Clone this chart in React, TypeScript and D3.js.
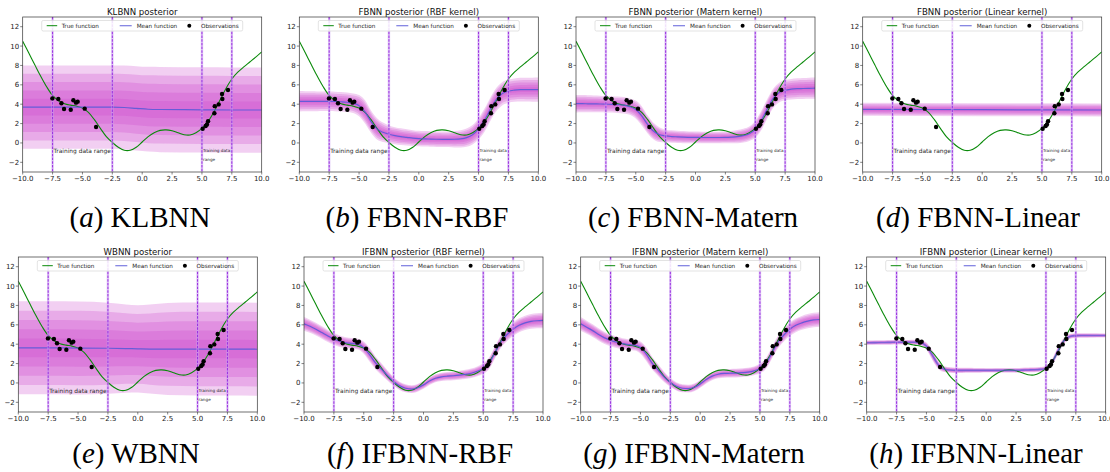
import React from 'react';
import * as d3 from 'd3';

// ---------- data ----------
const X_GRID = [-10, -9.5, -9, -8.5, -8, -7.5, -7, -6.5, -6, -5.5, -5, -4.5, -4, -3.5, -3, -2.5, -2, -1.5, -1, -0.5, 0, 0.5, 1, 1.5, 2, 2.5, 3, 3.5, 4, 4.5, 5, 5.5, 6, 6.5, 7, 7.5, 8, 8.5, 9, 9.5, 10];

const TRUE_Y = [10.5, 9.3, 8.1, 6.9, 5.8, 4.9, 4.35, 4.05, 3.9, 3.8, 3.6, 3.15, 2.4, 1.5, 0.65, 0.05, -0.45, -0.76, -0.76, -0.45, 0.1, 0.65, 1.05, 1.3, 1.35, 1.25, 1.05, 0.85, 0.82, 1.05, 1.5, 2.2, 3.2, 4.4, 5.6, 6.6, 7.3, 7.85, 8.35, 8.85, 9.4];

const OBS_X = [-7.52, -7.02, -6.76, -6.54, -5.98, -5.76, -5.54, -5.4, -4.81, -3.86, 5.06, 5.31, 5.42, 5.51, 6.04, 6.07, 6.4, 6.71, 6.68, 7.18];
const OBS_Y = [4.6, 4.53, 4.09, 3.5, 3.43, 4.4, 4.16, 4.26, 3.54, 1.65, 1.47, 1.75, 1.9, 2.24, 3.06, 3.8, 3.98, 4.53, 5.05, 5.46];

// (a) KLBNN
const KL_X = [-10, -7.5, -5, -2.5, -1.5, -0.5, 0.5, 1.5, 5, 7.5, 10];
const KL_MEAN = [3.7, 3.7, 3.7, 3.7, 3.66, 3.57, 3.48, 3.45, 3.42, 3.4, 3.4];
const KL_STD_X = [-10, -2.5, -0.5, 1.5, 10];
const KL_STD = [0.86, 0.86, 0.87, 0.88, 0.88];

// (b) FBNN RBF
const FB_RBF_MEAN = [4.3, 4.3, 4.3, 4.3, 4.3, 4.3, 4.28, 4.25, 4.2, 4.1, 3.85, 3.2, 2.2, 1.45, 1.1, 0.9, 0.75, 0.65, 0.58, 0.5, 0.45, 0.42, 0.4, 0.38, 0.37, 0.37, 0.38, 0.42, 0.55, 0.85, 1.45, 2.35, 3.5, 4.5, 5.1, 5.35, 5.45, 5.5, 5.5, 5.5, 5.5];
const FB_RBF_STD_X = [-10, -7.5, -5.5, -4.5, -3.5, -2.5, 0, 2.5, 4.5, 5.5, 6.5, 7.5, 10];
const FB_RBF_STD = [0.21, 0.2, 0.2, 0.24, 0.22, 0.18, 0.16, 0.16, 0.2, 0.24, 0.24, 0.24, 0.25];

// (c) FBNN Matern
const FB_MAT_MEAN = [4.05, 4.05, 4.04, 4.03, 4.02, 4.0, 3.98, 3.95, 3.9, 3.75, 3.45, 2.8, 1.9, 1.2, 0.85, 0.72, 0.66, 0.63, 0.6, 0.58, 0.57, 0.56, 0.56, 0.56, 0.56, 0.57, 0.6, 0.65, 0.75, 0.95, 1.4, 2.3, 3.5, 4.6, 5.2, 5.45, 5.55, 5.6, 5.62, 5.64, 5.65];
const FB_MAT_STD_X = [-10, -7.5, -5.5, -4.5, -3.5, -2.5, 0, 2.5, 4.5, 5.5, 6.5, 7.5, 10];
const FB_MAT_STD = [0.18, 0.17, 0.17, 0.2, 0.17, 0.13, 0.12, 0.12, 0.15, 0.2, 0.2, 0.21, 0.22];

// (d) FBNN Linear
const FB_LIN_X = [-10, 0, 10];
const FB_LIN_MEAN = [3.47, 3.43, 3.4];
const FB_LIN_STD_X = [-10, 10];
const FB_LIN_STD = [0.135, 0.135];

// (e) WBNN
const WB_X = [-10, -7.5, -5, -2.5, -1, 0, 1, 2.5, 5, 7.5, 10];
const WB_MEAN = [3.62, 3.62, 3.6, 3.58, 3.55, 3.52, 3.5, 3.5, 3.5, 3.5, 3.48];
const WB_STD_X = [-10, -7.5, -5, -2.5, -1, 0, 1, 2.5, 5, 7.5, 10];
const WB_STD = [0.96, 0.96, 0.96, 0.94, 0.91, 0.9, 0.92, 0.95, 0.96, 0.96, 0.96];

// (f) IFBNN RBF
const IF_RBF_MEAN = [6.1, 5.85, 5.55, 5.2, 4.85, 4.55, 4.3, 4.15, 4.08, 4.0, 3.65, 2.9, 2.05, 1.4, 0.75, 0.15, -0.3, -0.55, -0.63, -0.5, -0.2, 0.2, 0.48, 0.63, 0.7, 0.74, 0.8, 0.88, 1.0, 1.2, 1.5, 2.05, 3.2, 4.3, 5.0, 5.55, 5.95, 6.2, 6.35, 6.42, 6.45];
const IF_RBF_STD_X = [-10, -7.5, -5.5, -4.5, -3.5, -2.5, -1, 0.5, 2.5, 4.5, 5.5, 6.5, 7.5, 10];
const IF_RBF_STD = [0.14, 0.12, 0.11, 0.14, 0.12, 0.09, 0.08, 0.08, 0.09, 0.1, 0.12, 0.13, 0.14, 0.16];

// (g) IFBNN Matern
const IF_MAT_MEAN = [6.1, 5.75, 5.4, 5.0, 4.65, 4.4, 4.2, 4.05, 3.95, 3.9, 3.65, 2.95, 2.0, 1.3, 0.6, 0.05, -0.35, -0.55, -0.58, -0.45, -0.1, 0.35, 0.7, 0.9, 0.98, 1.0, 1.02, 1.06, 1.12, 1.25, 1.5, 2.0, 3.1, 4.2, 4.95, 5.55, 5.95, 6.2, 6.38, 6.5, 6.55];
const IF_MAT_STD_X = [-10, -7.5, -5.5, -4.5, -3.5, -2.5, -1, 0.5, 2.5, 4.5, 5.5, 6.5, 7.5, 10];
const IF_MAT_STD = [0.14, 0.12, 0.11, 0.14, 0.12, 0.09, 0.08, 0.08, 0.09, 0.09, 0.11, 0.13, 0.14, 0.15];

// (h) IFBNN Linear
const IF_LIN_MEAN = [4.15, 4.16, 4.17, 4.18, 4.19, 4.2, 4.2, 4.2, 4.2, 4.15, 3.8, 2.85, 1.85, 1.42, 1.33, 1.3, 1.3, 1.3, 1.3, 1.3, 1.3, 1.3, 1.3, 1.3, 1.3, 1.3, 1.32, 1.34, 1.36, 1.4, 1.5, 2.1, 3.3, 4.35, 4.8, 4.88, 4.9, 4.9, 4.9, 4.9, 4.9];
const IF_LIN_STD_X = [-10, -5.5, -4.5, -3.5, 0, 5, 6, 7, 10];
const IF_LIN_STD = [0.045, 0.05, 0.1, 0.06, 0.045, 0.05, 0.08, 0.05, 0.04];

const X_TICKS = [-10, -7.5, -5, -2.5, 0, 2.5, 5, 7.5, 10];
const Y_TICKS = [-2, 0, 2, 4, 6, 8, 10, 12];
const TRAIN_LINES = [-7.5, -2.5, 5, 7.5];
const BAND_LEVELS = [5, 4, 3, 2, 1];

const TITLES = [
  'KLBNN posterior', 'FBNN posterior (RBF kernel)', 'FBNN posterior (Matern kernel)', 'FBNN posterior (Linear kernel)',
  'WBNN posterior', 'IFBNN posterior (RBF kernel)', 'IFBNN posterior (Matern kernel)', 'IFBNN posterior (Linear kernel)',
];
const CAPTION_LETTERS = ['a', 'b', 'c', 'd', 'e', 'f', 'g', 'h'];
const CAPTION_NAMES = ['KLBNN', 'FBNN-RBF', 'FBNN-Matern', 'FBNN-Linear', 'WBNN', 'IFBNN-RBF', 'IFBNN-Matern', 'IFBNN-Linear'];

const SERIES = [
  { mx: KL_X, mean: KL_MEAN, sx: KL_STD_X, std: KL_STD },
  { mx: X_GRID, mean: FB_RBF_MEAN, sx: FB_RBF_STD_X, std: FB_RBF_STD },
  { mx: X_GRID, mean: FB_MAT_MEAN, sx: FB_MAT_STD_X, std: FB_MAT_STD },
  { mx: FB_LIN_X, mean: FB_LIN_MEAN, sx: FB_LIN_STD_X, std: FB_LIN_STD },
  { mx: WB_X, mean: WB_MEAN, sx: WB_STD_X, std: WB_STD },
  { mx: X_GRID, mean: IF_RBF_MEAN, sx: IF_RBF_STD_X, std: IF_RBF_STD },
  { mx: X_GRID, mean: IF_MAT_MEAN, sx: IF_MAT_STD_X, std: IF_MAT_STD },
  { mx: X_GRID, mean: IF_LIN_MEAN, sx: IF_LIN_STD_X, std: IF_LIN_STD },
];

// ---------- layout ----------
const PLOT_W = 239;
const PLOT_H = 155;
const PANEL_LEFT = [22.7, 299.3, 576, 862.7, 18.3, 304, 580.7, 866.7];
const PANEL_TOP = [17, 17, 17, 17, 257, 257, 257, 257];
const CAPTION_X = [140, 417, 693, 978, 136, 420, 694, 976];
const CAPTION_Y = [226.5, 226.5, 226.5, 226.5, 463, 463, 463, 463];

const SANS = 'DejaVu Sans, sans-serif';
const SERIF = "'Liberation Serif', 'Times New Roman', serif";
const GREEN = '#0a8a0a';
const MEAN_C = '#5a5ad8';
const BAND_C = '#cc44cc';
const VLINE_C = '#9a2ee0';

function fmtX(v: number) {
  const s = v.toFixed(1);
  return v < 0 ? '\u2212' + s.slice(1) : s;
}
function fmtY(v: number) {
  return v < 0 ? '\u2212' + String(-v) : String(v);
}

function Panel({ i }: { i: number }) {
  const left = PANEL_LEFT[i];
  const top = PANEL_TOP[i];
  const x = d3.scaleLinear().domain([-10, 10]).range([left, left + PLOT_W]);
  const y = d3.scaleLinear().domain([-3, 13]).range([top + PLOT_H, top]);
  const s = SERIES[i];
  const stdAt = d3.scaleLinear().domain(s.sx).range(s.std).clamp(true);
  const pts = s.mx.map((xv, j) => ({ x: xv, m: s.mean[j], sd: stdAt(xv) }));
  const bandPath = (k: number) =>
    d3.area<any>().x((d) => x(d.x)).y0((d) => y(d.m - k * d.sd)).y1((d) => y(d.m + k * d.sd)).curve(d3.curveMonotoneX)(pts) || '';
  const meanPath = d3.line<any>().x((d) => x(d.x)).y((d) => y(d.m)).curve(d3.curveMonotoneX)(pts) || '';
  const truePath = d3.line<number>().x((_, j) => x(X_GRID[j])).y((d) => y(d)).curve(d3.curveCatmullRom)(TRUE_Y) || '';
  const clipId = 'clip' + i;
  const cx = left + PLOT_W / 2;
  const legW = 201;
  const lx = cx - legW / 2;
  const ly = top + 3.5;
  const lcy = ly + 5;
  const ty = y(-0.8);
  return (
    <g>
      <defs>
        <clipPath id={clipId}>
          <rect x={left} y={top} width={PLOT_W} height={PLOT_H} />
        </clipPath>
      </defs>
      <g clipPath={`url(#${clipId})`}>
        {BAND_LEVELS.map((k) => (
          <path key={k} d={bandPath(k)} fill={BAND_C} fillOpacity={0.26} stroke="none" />
        ))}
        <path d={truePath} fill="none" stroke={GREEN} strokeWidth={1.1} />
        <path d={meanPath} fill="none" stroke={MEAN_C} strokeWidth={i === 7 ? 1.6 : 1.2} strokeOpacity={i === 7 ? 0.7 : 0.9} />
        {TRAIN_LINES.map((v) => (
          <g key={v}>
            <line x1={x(v)} x2={x(v)} y1={top} y2={top + PLOT_H} stroke="#c9a0f0" strokeWidth={2.4} strokeOpacity={0.6} />
            <line x1={x(v)} x2={x(v)} y1={top} y2={top + PLOT_H} stroke={VLINE_C} strokeWidth={1} strokeDasharray="2.5,1.2" />
          </g>
        ))}
        {OBS_X.map((ox, j) => (
          <circle key={j} cx={x(ox)} cy={y(OBS_Y[j])} r={2.2} fill="#000" />
        ))}
        <text x={x(-7.5) + 1} y={ty + 2.1} fontFamily={SANS} fontSize={5.9} fill="#2a2a2a">Training data range</text>
        <text x={x(5) + 1} y={ty + 1.5} fontFamily={SANS} fontSize={4.2} fill="#2a2a2a">Training data</text>
        <text x={x(5) + 1} y={ty + 10} fontFamily={SANS} fontSize={4.2} fill="#2a2a2a">range</text>
      </g>
      {/* legend */}
      <rect x={lx} y={ly} width={legW} height={10.5} rx={1.5} fill="#fff" fillOpacity={0.85} stroke="#d0d0d0" strokeWidth={0.6} />
      <line x1={lx + 5} x2={lx + 15.5} y1={lcy + 0.2} y2={lcy + 0.2} stroke={GREEN} strokeWidth={1} />
      <text x={lx + 20} y={lcy + 2} fontFamily={SANS} fontSize={5.7} fill="#222">True function</text>
      <line x1={lx + 78} x2={lx + 90} y1={lcy + 0.2} y2={lcy + 0.2} stroke={MEAN_C} strokeWidth={1.2} strokeOpacity={0.8} />
      <text x={lx + 95} y={lcy + 2} fontFamily={SANS} fontSize={5.7} fill="#222">Mean function</text>
      <circle cx={lx + 147.6} cy={lcy + 0.2} r={2} fill="#000" />
      <text x={lx + 159.3} y={lcy + 2} fontFamily={SANS} fontSize={5.7} fill="#222">Observations</text>
      {/* frame */}
      <rect x={left} y={top} width={PLOT_W} height={PLOT_H} fill="none" stroke="#333" strokeWidth={0.7} />
      {/* x ticks */}
      {X_TICKS.map((v) => (
        <g key={v}>
          <line x1={x(v)} x2={x(v)} y1={top + PLOT_H} y2={top + PLOT_H + 2.5} stroke="#333" strokeWidth={0.6} />
          <text x={x(v)} y={top + PLOT_H + 9.3} textAnchor="middle" fontFamily={SANS} fontSize={7} fill="#222">{fmtX(v)}</text>
        </g>
      ))}
      {Y_TICKS.map((v) => (
        <g key={v}>
          <line x1={left - 2.5} x2={left} y1={y(v)} y2={y(v)} stroke="#333" strokeWidth={0.6} />
          <text x={left - 3.5} y={y(v) + 2.5} textAnchor="end" fontFamily={SANS} fontSize={7} fill="#222">{fmtY(v)}</text>
        </g>
      ))}
      <text x={cx} y={top - 2.4} textAnchor="middle" fontFamily={SANS} fontSize={8.6} fill="#111">{TITLES[i]}</text>
      <text x={CAPTION_X[i]} y={CAPTION_Y[i]} textAnchor="middle" fontFamily={SERIF} fontSize={29} fill="#000">
        (<tspan fontStyle="italic">{CAPTION_LETTERS[i]}</tspan>) {CAPTION_NAMES[i]}
      </text>
    </g>
  );
}

export default function App() {
  return (
    <svg width={1110} height={472} style={{ position: 'absolute', left: 0, top: 0, background: '#fff' }}>
      <rect x={0} y={0} width={1110} height={472} fill="#fff" />
      {TITLES.map((_, i) => (
        <Panel key={i} i={i} />
      ))}
    </svg>
  );
}
